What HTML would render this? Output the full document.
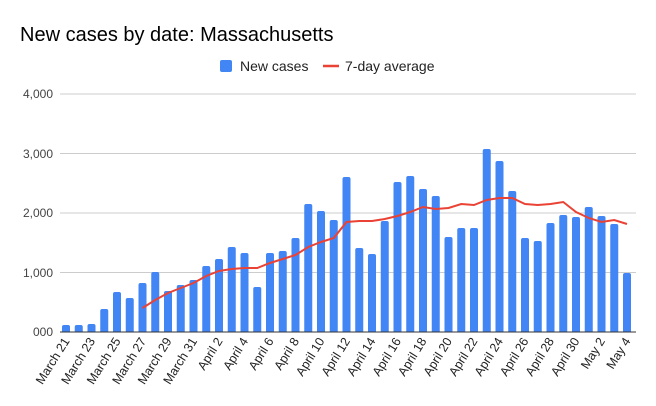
<!DOCTYPE html>
<html><head><meta charset="utf-8"><style>
body{margin:0;background:#fff;}
svg{display:block;font-family:"Liberation Sans",Arial,sans-serif;}
</style></head><body>
<svg id="c" width="656" height="406" xmlns="http://www.w3.org/2000/svg">
<rect width="656" height="406" fill="#fff"/>
<text x="20" y="41" font-size="20" fill="#000">New cases by date: Massachusetts</text>
<rect x="220" y="60" width="12" height="12" rx="2" fill="#4285f4"/>
<text x="240" y="71" font-size="14" fill="#222">New cases</text>
<line x1="323" y1="66" x2="339" y2="66" stroke="#ea4335" stroke-width="2.5"/>
<text x="345" y="71" font-size="14" fill="#222">7-day average</text>
<g stroke="#ccc" stroke-width="1">
<line x1="60" y1="94" x2="636" y2="94"/>
<line x1="60" y1="153.5" x2="636" y2="153.5"/>
<line x1="60" y1="213" x2="636" y2="213"/>
<line x1="60" y1="272.5" x2="636" y2="272.5"/>
</g>
<g font-size="12" fill="#444" text-anchor="end">
<text x="53" y="98">4,000</text>
<text x="53" y="158">3,000</text>
<text x="53" y="217">2,000</text>
<text x="53" y="277">1,000</text>
<text x="53" y="336">000</text>
</g>
<g id="bars"></g>
<line x1="60" y1="332" x2="636" y2="332" stroke="#333" stroke-width="1"/>
<g id="line"></g>
<g id="labels"></g>
</svg>
<script>
var tops=[325,325,324,309,292,298,283,272,291,285,280,266,259,247,253,287,253,251,238,204,211,220,177,248,254,221,182,176,189,196,237,228,228,149,161,191,238,241,223,215,217,207,216,224,273];
var avg=[308,300,293,288,283,276,271,269,268,268,263,259,255,247,242,238,222,221,221,219,216,212,207,209,208,204,205,200,198,198,204,205,204,202,212,218,222,220,224];
var ns="http://www.w3.org/2000/svg";
var bars=document.getElementById("bars"),lab=document.getElementById("labels");
var names=["March 21","March 23","March 25","March 27","March 29","March 31","April 2","April 4","April 6","April 8","April 10","April 12","April 14","April 16","April 18","April 20","April 22","April 24","April 26","April 28","April 30","May 2","May 4"];
for(var i=0;i<45;i++){
 var cx=66+i*12.75,t=tops[i];
 var p=document.createElementNS(ns,"path");
 var x0=cx-4,x1=cx+4,r=2;
 p.setAttribute("d","M"+x0+",332 L"+x0+","+(t+r)+" Q"+x0+","+t+" "+(x0+r)+","+t+" L"+(x1-r)+","+t+" Q"+x1+","+t+" "+x1+","+(t+r)+" L"+x1+",332 Z");
 p.setAttribute("fill","#4285f4");bars.appendChild(p);
 if(i%2==0){
  var tx=document.createElementNS(ns,"text");
  tx.setAttribute("x",0);tx.setAttribute("y",0);
  tx.setAttribute("font-size","12.5");tx.setAttribute("fill","#222");tx.setAttribute("text-anchor","end");
  tx.setAttribute("transform","translate("+(cx+4)+",341) rotate(-58)");
  tx.textContent=names[i/2];lab.appendChild(tx);
 }
}
var pts=avg.map(function(y,j){return (66+(j+6)*12.75)+","+y}).join(" ");
var pl=document.createElementNS(ns,"polyline");
pl.setAttribute("points",pts);pl.setAttribute("fill","none");pl.setAttribute("stroke","#ea4335");pl.setAttribute("stroke-width","2");
document.getElementById("line").appendChild(pl);
</script>
</body></html>
